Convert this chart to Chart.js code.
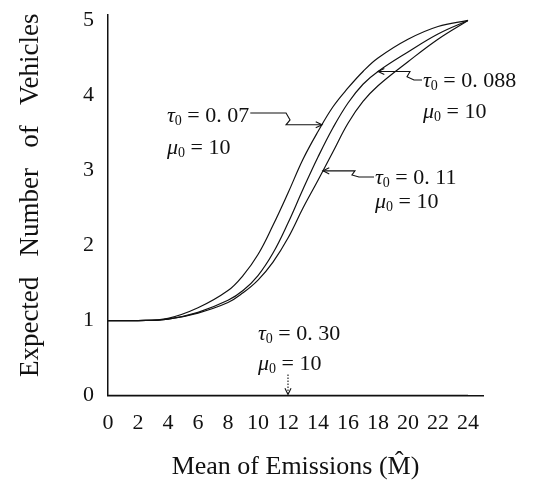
<!DOCTYPE html>
<html>
<head>
<meta charset="utf-8">
<script src="https://cdn.jsdelivr.net/npm/chart.js@4/dist/chart.umd.min.js"></script>
<style>
  html, body { margin: 0; padding: 0; background: #fff; }
  #wrap { width: 536px; height: 480px; }
</style>
</head>
<body>
<div id="wrap"><canvas id="emissionsChart" width="536" height="480"></canvas></div>
<script>
// mean of emissions (x) and expected number of vehicles for each tau0
const meanEmissions = [0, 2, 4, 6, 8, 9, 10, 11, 12, 13, 14, 15, 16, 17, 18, 20, 22, 24];
const tau007 = [1, 1, 1.03, 1.17, 1.4, 1.6, 1.88, 2.27, 2.7, 3.15, 3.52, 3.85, 4.1, 4.32, 4.5, 4.75, 4.92, 5];
const tau088 = [1, 1, 1.02, 1.11, 1.27, 1.4, 1.6, 1.9, 2.3, 2.75, 3.18, 3.57, 3.9, 4.15, 4.32, 4.58, 4.82, 5];
const tau011 = [1, 1, 1.02, 1.1, 1.24, 1.37, 1.54, 1.78, 2.1, 2.5, 2.87, 3.25, 3.63, 3.92, 4.13, 4.45, 4.75, 5];
const tau030 = [0, 0, 0, 0, 0, 0, 0, 0, 0, 0, 0, 0, 0, 0, 0, 0, 0, 0];

const xTicks = [0, 2, 4, 6, 8, 10, 12, 14, 16, 18, 20, 22, 24];
const yTicks = [0, 1, 2, 3, 4, 5];

const SERIF = "'Liberation Serif', 'DejaVu Serif', serif";

// callouts: which curve, where the arrow lands (x value), where the text goes
const callouts = [
  { series: tau007, at: 14.27, tau: '0. 07', textX: 167, textY: 115, gap: 32, side: 'left' },
  { series: tau088, at: 18.0, tau: '0. 088', textX: 423, textY: 80, gap: 31, side: 'right' },
  { series: tau011, at: 14.33, tau: '0. 11', textX: 375, textY: 177, gap: 24, side: 'right' },
];

function toPoints(ys) {
  return meanEmissions.map((x, i) => ({ x: x, y: ys[i] }));
}

function valueAt(ys, x) {
  for (let i = 1; i < meanEmissions.length; i++) {
    if (x <= meanEmissions[i]) {
      const x0 = meanEmissions[i - 1], x1 = meanEmissions[i];
      const t = (x - x0) / (x1 - x0);
      return ys[i - 1] + t * (ys[i] - ys[i - 1]);
    }
  }
  return ys[ys.length - 1];
}

// draws "τ0 = value" with italic greek letter and small subscript
function drawSymbolText(ctx, x, y, sym, rest) {
  ctx.textBaseline = 'alphabetic';
  ctx.textAlign = 'left';
  ctx.font = 'italic 22px ' + SERIF;
  ctx.fillText(sym, x, y);
  let w = ctx.measureText(sym).width;
  ctx.font = '14px ' + SERIF;
  ctx.fillText('0', x + w, y + 3);
  w += ctx.measureText('0').width;
  ctx.font = '22px ' + SERIF;
  ctx.fillText(' = ' + rest, x + w, y);
  return w + ctx.measureText(' = ' + rest).width;
}

function arrowHead(ctx, x, y, dx, dy) {
  const len = 7, spread = 0.45;
  const ang = Math.atan2(dy, dx);
  ctx.beginPath();
  ctx.moveTo(x - len * Math.cos(ang - spread), y - len * Math.sin(ang - spread));
  ctx.lineTo(x, y);
  ctx.lineTo(x - len * Math.cos(ang + spread), y - len * Math.sin(ang + spread));
  ctx.stroke();
}

const calloutPlugin = {
  id: 'callouts',
  afterDatasetsDraw(chart) {
    const ctx = chart.ctx;
    const xs = chart.scales.x, ys = chart.scales.y;
    ctx.save();
    ctx.fillStyle = '#111';
    ctx.strokeStyle = '#111';
    ctx.lineWidth = 1.1;

    callouts.forEach(c => {
      const tx = xs.getPixelForValue(c.at);
      const ty = ys.getPixelForValue(valueAt(c.series, c.at));
      const base = c.textY + 7;
      const textW = drawSymbolText(ctx, c.textX, base, 'τ', c.tau);
      drawSymbolText(ctx, c.textX, base + c.gap, 'μ', '10');
      ctx.beginPath();
      if (c.side === 'right') {
        const xa = tx + 32;
        ctx.moveTo(tx, ty);
        ctx.lineTo(xa, ty);
        ctx.lineTo(xa - 3, (ty + c.textY) / 2 + 1);
        ctx.lineTo(xa + 4, c.textY);
        ctx.lineTo(c.textX - 1, c.textY);
        ctx.stroke();
        arrowHead(ctx, tx, ty, -1, 0);
      } else {
        const xa = tx - 36;
        ctx.moveTo(c.textX + textW + 1, c.textY - 2);
        ctx.lineTo(xa, c.textY - 2);
        ctx.lineTo(xa + 4, (ty + c.textY) / 2);
        ctx.lineTo(xa, ty);
        ctx.lineTo(tx, ty);
        ctx.stroke();
        arrowHead(ctx, tx, ty, 1, 0);
      }
    });

    // tau0 = 0.30 lies on the axis: dotted arrow down to x = 12
    const px = xs.getPixelForValue(12), py = ys.getPixelForValue(0);
    drawSymbolText(ctx, 258, 340, 'τ', '0. 30');
    drawSymbolText(ctx, 258, 370, 'μ', '10');
    ctx.setLineDash([1.5, 1.5]);
    ctx.beginPath();
    ctx.moveTo(px, py - 21);
    ctx.lineTo(px, py - 1);
    ctx.stroke();
    ctx.setLineDash([]);
    arrowHead(ctx, px, py - 1, 0, 1);
    ctx.restore();
  }
};

const curveStyle = {
  borderColor: '#111',
  borderWidth: 1.2,
  pointRadius: 0,
  fill: false,
  tension: 0.4,
};

new Chart(document.getElementById('emissionsChart').getContext('2d'), {
  type: 'line',
  data: {
    datasets: [
      Object.assign({ label: 'τ0 = 0.07', data: toPoints(tau007) }, curveStyle),
      Object.assign({ label: 'τ0 = 0.088', data: toPoints(tau088) }, curveStyle),
      Object.assign({ label: 'τ0 = 0.11', data: toPoints(tau011) }, curveStyle),
      Object.assign({ label: 'τ0 = 0.30', data: toPoints(tau030) }, curveStyle, { borderWidth: 1.6 }),
    ],
  },
  options: {
    responsive: false,
    animation: false,
    layout: { padding: { top: 0, right: 53, left: 8, bottom: 0 } },
    plugins: { legend: { display: false }, tooltip: { enabled: false } },
    scales: {
      x: {
        type: 'linear',
        min: 0,
        max: 25,
        afterBuildTicks: s => { s.ticks = xTicks.map(v => ({ value: v })); },
        grid: { display: false, tickLength: 0 },
        border: { display: true, color: '#111', width: 1.5 },
        ticks: { color: '#111', padding: 14, maxRotation: 0, autoSkip: false, font: { family: SERIF, size: 22 } },
        title: { display: true, text: 'Mean of Emissions (M̂)', color: '#111', padding: { top: 4, bottom: 0 }, font: { family: SERIF, size: 26, lineHeight: 1 } },
      },
      y: {
        min: 0,
        max: 5.07,
        afterBuildTicks: s => { s.ticks = yTicks.map(v => ({ value: v })); },
        grid: { display: false, tickLength: 12 },
        border: { display: true, color: '#111', width: 1.5 },
        ticks: { color: '#111', padding: 2, font: { family: SERIF, size: 22 } },
        title: { display: true, text: '   Expected   Number   of   Vehicles', color: '#111', padding: { top: 9, bottom: 37 }, font: { family: SERIF, size: 27, lineHeight: 1 } },
      },
    },
  },
  plugins: [calloutPlugin],
});
</script>
</body>
</html>
